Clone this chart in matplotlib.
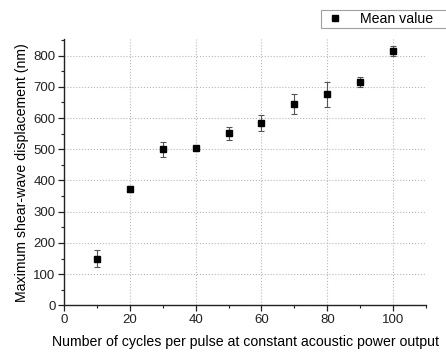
import numpy as np
import matplotlib
matplotlib.use("Agg")
import matplotlib.pyplot as plt
from matplotlib.ticker import MultipleLocator

plt.rcParams['font.family'] = ['Liberation Sans', 'DejaVu Sans']

# data
cycles = [10, 20, 30, 40, 50, 60, 70, 80, 90, 100]
mean_disp = [150, 373, 500, 505, 551, 585, 645, 676, 715, 815]
err_disp = [27, 10, 24, 7, 20, 25, 32, 39, 17, 16]

fig = plt.figure(figsize=(4.46, 3.54), dpi=100)
ax = fig.add_axes([0.1435, 0.1375, 0.8117, 0.752])

ax.errorbar(cycles, mean_disp, yerr=err_disp, fmt='none', ecolor='#555555',
            elinewidth=0.8, capsize=2.0, capthick=0.8, zorder=2)
ax.plot(cycles, mean_disp, 's', color='black', markersize=4.2,
        label='Mean value', zorder=3)

ax.set_xlim(0, 110)
ax.set_ylim(0, 853)
ax.xaxis.set_major_locator(MultipleLocator(20))
ax.xaxis.set_minor_locator(MultipleLocator(10))
ax.yaxis.set_major_locator(MultipleLocator(100))
ax.yaxis.set_minor_locator(MultipleLocator(50))

for s in ['top', 'right']:
    ax.spines[s].set_visible(False)
for s in ['left', 'bottom']:
    ax.spines[s].set_color('#222222')
    ax.spines[s].set_linewidth(1.0)

ax.tick_params(which='major', direction='out', length=4, width=0.9,
               labelsize=9.5, colors='#222222', pad=2)
ax.tick_params(which='minor', direction='out', length=2.5, width=0.8,
               colors='#222222')
ax.grid(True, which='major', linestyle=':', color='#b8b8b8', linewidth=0.8)
ax.set_axisbelow(True)

ax.set_xlabel('Number of cycles per pulse at constant acoustic power output',
              fontsize=10.2, labelpad=7)
ax.set_ylabel('Maximum shear-wave displacement (nm)', fontsize=10.2, labelpad=3)

# legend box runs past the right edge of the figure, as in the original
leg = fig.legend(loc='upper left', bbox_to_anchor=(0.72, 0.972, 0.3, 0),
                 mode='expand', fontsize=10.2,
                 frameon=True, fancybox=False, borderpad=0.15,
                 handlelength=1.6, handletextpad=1.0, borderaxespad=0)
leg.get_frame().set_edgecolor('#888888')
leg.get_frame().set_linewidth(0.8)

fig.savefig('out.png', dpi=100)
